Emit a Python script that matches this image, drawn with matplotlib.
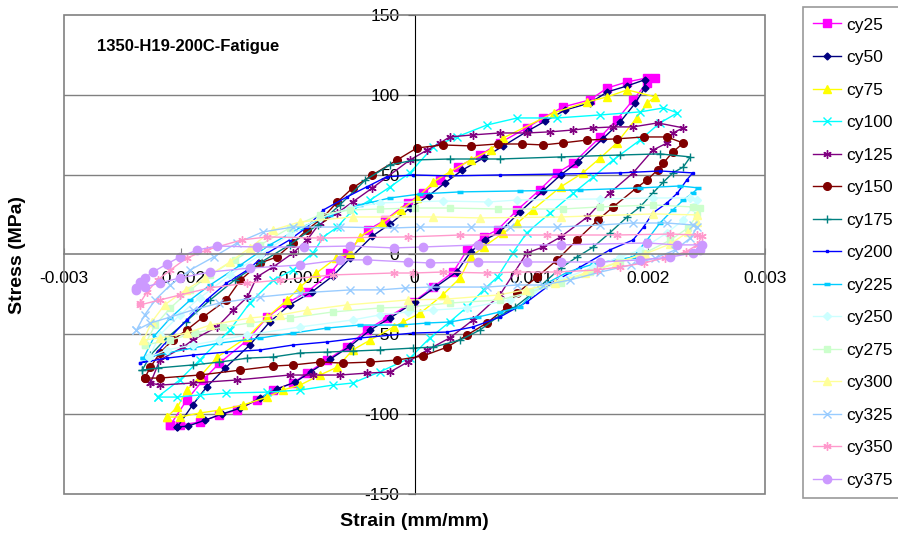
import matplotlib
matplotlib.use('Agg')
import matplotlib.pyplot as plt
from matplotlib.patches import Rectangle

plt.rcParams['font.family'] = ['Liberation Sans', 'DejaVu Sans']

# 数据: 每个循环一个闭合的滞回环 (应变, 应力)
cy25_x = [-0.00209, -0.00195, -0.00181, -0.00167, -0.00143, -0.00126, -0.00109, -0.00092, -0.00072, -0.00058,
          -0.00040, -0.00025, -0.00006, 0.00007, 0.00022, 0.00037, 0.00056, 0.00073, 0.00096, 0.00110,
          0.00127, 0.00150, 0.00165, 0.00182, 0.00199, 0.00206,
          0.00199, 0.00187, 0.00173, 0.00159, 0.00136, 0.00122, 0.00107, 0.00088, 0.00071, 0.00059,
          0.00045, 0.00033, 0.00016, -0.00001, -0.00024, -0.00041, -0.00058, -0.00075, -0.00092, -0.00104,
          -0.00121, -0.00135, -0.00152, -0.00167, -0.00184, -0.00201, -0.00209]
cy25_y = [-106.8, -91.2, -78.6, -68.0, -53.6, -39.2, -30.4, -23.5, -11.6, 0.9,
          15.4, 21.6, 32.3, 38.5, 46.7, 54.8, 62.3, 69.9, 79.3, 85.5,
          92.4, 96.8, 104.3, 108.1, 110.6, 110.6,
          107.5, 96.8, 84.3, 73.6, 57.3, 51.1, 40.4, 27.9, 15.4, 11.0,
          2.8, -11.0, -20.4, -29.8, -39.8, -47.3, -58.0, -66.1, -74.3, -80.5,
          -84.9, -91.2, -97.5, -100.6, -105.0, -106.8, -106.8]

cy50_x = [-0.00203, -0.00190, -0.00178, -0.00162, -0.00141, -0.00124, -0.00107, -0.00088, -0.00070, -0.00055,
          -0.00036, -0.00021, -0.00004, 0.00012, 0.00026, 0.00041, 0.00059, 0.00076, 0.00097, 0.00112,
          0.00129, 0.00150, 0.00165, 0.00182, 0.00197,
          0.00197, 0.00189, 0.00176, 0.00161, 0.00140, 0.00125, 0.00110, 0.00090, 0.00073, 0.00060,
          0.00048, 0.00036, 0.00018, 0.00000, -0.00021, -0.00038, -0.00055, -0.00072, -0.00089, -0.00102,
          -0.00118, -0.00132, -0.00149, -0.00165, -0.00179, -0.00194, -0.00203]
cy50_y = [-108.0, -94.3, -83.0, -71.1, -56.7, -42.3, -31.6, -23.5, -13.5, -2.2,
          11.6, 19.1, 29.1, 36.7, 44.8, 52.9, 60.5, 68.0, 77.4, 83.6,
          90.5, 94.9, 101.8, 105.6, 109.4,
          104.3, 94.9, 83.0, 72.4, 58.0, 49.8, 39.8, 26.6, 14.1, 9.1,
          1.6, -11.0, -20.4, -29.8, -39.8, -47.3, -57.3, -65.5, -73.6, -79.9,
          -84.3, -89.9, -96.2, -99.9, -103.7, -107.5, -108.0]

cy75_x = [-0.00212, -0.00203, -0.00195, -0.00184, -0.00169, -0.00143, -0.00126, -0.00109, -0.00098, -0.00084,
          -0.00067, -0.00055, -0.00047, -0.00028, -0.00012, 0.00002, 0.00016, 0.00030, 0.00048, 0.00065,
          0.00076, 0.00119, 0.00148, 0.00165, 0.00182, 0.00206,
          0.00199, 0.00190, 0.00173, 0.00159, 0.00144, 0.00125, 0.00101, 0.00088, 0.00076, 0.00059,
          0.00048, 0.00039, 0.00024, 0.00005, -0.00010, -0.00018, -0.00038, -0.00053, -0.00066, -0.00081,
          -0.00098, -0.00113, -0.00126, -0.00147, -0.00167, -0.00184, -0.00201, -0.00212]
cy75_y = [-101.8, -95.6, -84.9, -76.8, -64.3, -51.7, -39.2, -28.5, -20.4, -11.6,
          -2.2, 0.9, 11.0, 19.7, 27.9, 35.4, 45.4, 51.7, 59.2, 65.5,
          73.0, 88.7, 95.6, 98.7, 103.1, 98.7,
          94.9, 85.5, 69.8, 60.5, 51.1, 42.3, 27.9, 19.7, 13.5, 4.7,
          -1.6, -14.7, -25.4, -36.7, -42.3, -45.4, -53.6, -59.8, -70.5, -75.5,
          -81.8, -84.9, -89.3, -94.3, -97.5, -99.3, -101.8, -101.8]

cy100_x = [-0.00220, -0.00201, -0.00184, -0.00158, -0.00141, -0.00121, -0.00104, -0.00087, -0.00078, -0.00066,
           -0.00053, -0.00038, -0.00021, -0.00004, 0.00016, 0.00036, 0.00062, 0.00088, 0.00122, 0.00159,
           0.00193, 0.00213, 0.00225,
           0.00210, 0.00193, 0.00170, 0.00153, 0.00136, 0.00116, 0.00096, 0.00084, 0.00071, 0.00059,
           0.00045, 0.00030, 0.00013, -0.00004, -0.00030, -0.00053, -0.00070, -0.00098, -0.00126, -0.00161,
           -0.00184, -0.00203, -0.00220]
cy100_y = [-89.3, -78.6, -66.1, -47.3, -30.4, -16.0, -9.7, 0.9, 11.0, 17.2,
           27.9, 34.1, 42.3, 51.1, 67.4, 73.6, 81.1, 85.5, 85.5, 87.4,
           89.3, 91.8, 88.7,
           82.4, 71.7, 59.2, 48.6, 38.5, 26.0, 13.5, 0.9, -14.1, -22.2,
           -32.9, -42.3, -52.3, -64.9, -73.6, -80.5, -81.8, -84.9, -86.2, -86.8,
           -88.0, -89.3, -89.3]

cy125_x = [-0.00226, -0.00218, -0.00198, -0.00190, -0.00169, -0.00155, -0.00143, -0.00135, -0.00121, -0.00104,
           -0.00092, -0.00081, -0.00066, -0.00053, -0.00036, -0.00004, 0.00011, 0.00022, 0.00030, 0.00050,
           0.00073, 0.00096, 0.00116, 0.00136, 0.00153, 0.00170, 0.00187, 0.00208, 0.00230,
           0.00221, 0.00216, 0.00204, 0.00187, 0.00167, 0.00148, 0.00125, 0.00110, 0.00096, 0.00073,
           0.00050, 0.00030, 0.00011, -0.00006, -0.00021, -0.00041, -0.00064, -0.00087, -0.00107, -0.00152,
           -0.00190, -0.00218, -0.00226]
cy125_y = [-80.5, -66.1, -58.0, -53.6, -45.4, -34.8, -26.6, -14.1, -7.8, 0.9,
           9.1, 19.7, 26.0, 32.9, 41.7, 59.2, 65.5, 69.9, 73.6, 74.9,
           76.1, 76.1, 76.8, 78.0, 79.3, 79.9, 79.9, 82.4, 79.3,
           76.1, 69.8, 65.4, 51.1, 38.5, 23.5, 11.0, 4.7, 0.9, -25.4,
           -41.0, -52.3, -59.8, -67.4, -73.6, -74.3, -75.5, -75.5, -75.5, -78.6,
           -80.5, -81.8, -80.5]

cy150_x = [-0.00231, -0.00226, -0.00218, -0.00207, -0.00195, -0.00181, -0.00161, -0.00149, -0.00132, -0.00118,
           -0.00104, -0.00092, -0.00078, -0.00066, -0.00053, -0.00036, -0.00015, 0.00002, 0.00024, 0.00048,
           0.00071, 0.00092, 0.00110, 0.00127, 0.00148, 0.00173, 0.00196, 0.00216, 0.00230,
           0.00221, 0.00213, 0.00208, 0.00199, 0.00190, 0.00170, 0.00157, 0.00139, 0.00122, 0.00105,
           0.00088, 0.00079, 0.00062, 0.00045, 0.00028, 0.00007, -0.00015, -0.00038, -0.00061, -0.00081,
           -0.00104, -0.00121, -0.00149, -0.00184, -0.00218, -0.00231]
cy150_y = [-77.4, -70.5, -61.7, -53.6, -47.3, -39.2, -28.5, -16.0, -5.3, -1.6,
           7.2, 15.4, 23.5, 32.9, 41.7, 49.8, 59.2, 66.7, 68.6, 68.0,
           69.2, 69.2, 68.6, 69.9, 71.7, 72.4, 73.6, 73.6, 69.8,
           64.2, 57.3, 52.9, 46.7, 41.7, 29.8, 21.6, 9.1, -3.4, -14.0,
           -24.1, -32.9, -42.9, -50.4, -58.0, -63.6, -66.1, -67.4, -68.0, -67.4,
           -69.2, -69.9, -72.4, -75.5, -77.4, -77.4]

cy175_x = [-0.00233, -0.00226, -0.00214, -0.00196, -0.00175, -0.00154, -0.00131, -0.00107, -0.00083, -0.00064,
           -0.00042, -0.00021, 0.00000, 0.00030, 0.00073, 0.00125, 0.00176, 0.00210, 0.00236,
           0.00230, 0.00221, 0.00213, 0.00204, 0.00193, 0.00182, 0.00167, 0.00153, 0.00139, 0.00125,
           0.00099, 0.00086, 0.00071, 0.00056, 0.00039, 0.00016, -0.00001, -0.00030, -0.00053, -0.00075,
           -0.00098, -0.00121, -0.00143, -0.00167, -0.00190, -0.00220, -0.00233]
cy175_y = [-72.4, -63.0, -53.6, -42.3, -28.5, -16.0, -4.7, 6.0, 18.5, 31.0,
           46.7, 56.1, 59.2, 59.8, 59.8, 61.1, 62.3, 63.0, 61.1,
           54.8, 51.1, 45.4, 38.5, 29.8, 23.5, 13.5, 4.7, -1.6, -8.5,
           -25.4, -32.9, -39.2, -47.3, -53.6, -58.0, -58.6, -59.8, -60.5, -61.1,
           -61.7, -64.2, -64.9, -67.4, -69.2, -71.1, -72.4]

cy200_x = [-0.00235, -0.00226, -0.00209, -0.00195, -0.00178, -0.00161, -0.00143, -0.00126, -0.00107, -0.00092,
           -0.00078, -0.00058, -0.00041, -0.00024, -0.00001, 0.00030, 0.00073, 0.00125, 0.00176, 0.00210,
           0.00238,
           0.00233, 0.00225, 0.00216, 0.00204, 0.00196, 0.00187, 0.00167, 0.00142, 0.00119, 0.00096,
           0.00073, 0.00050, 0.00028, -0.00001, -0.00047, -0.00075, -0.00104, -0.00132, -0.00161, -0.00190,
           -0.00212, -0.00235]
cy200_y = [-67.9, -66.1, -51.7, -41.0, -28.5, -17.9, -9.7, 0.9, 9.1, 17.2,
           27.9, 36.0, 42.3, 48.6, 49.8, 49.2, 49.8, 50.4, 51.1, 52.3,
           51.1,
           46.7, 38.5, 32.3, 26.0, 17.2, 9.1, 2.8, -7.8, -17.2, -29.8,
           -39.2, -45.4, -48.6, -49.2, -52.3, -54.8, -56.7, -59.8, -61.1, -63.0,
           -64.9, -67.9]

cy225_x = [-0.00232, -0.00222, -0.00209, -0.00192, -0.00175, -0.00149, -0.00124, -0.00098, -0.00072, -0.00047,
           -0.00021, 0.00005, 0.00039, 0.00090, 0.00142, 0.00193, 0.00227, 0.00243,
           0.00238, 0.00230, 0.00221, 0.00210, 0.00199, 0.00187, 0.00172, 0.00153, 0.00131, 0.00107,
           0.00090, 0.00073, 0.00054, 0.00030, 0.00011, -0.00012, -0.00047, -0.00075, -0.00104, -0.00132,
           -0.00167, -0.00190, -0.00212, -0.00232]
cy225_y = [-64.9, -50.4, -39.8, -28.5, -19.1, -6.6, 6.0, 16.6, 24.8, 31.0,
           35.4, 37.9, 39.2, 39.8, 40.4, 41.7, 42.9, 41.7,
           38.5, 34.1, 27.9, 19.7, 9.1, -1.6, -3.4, -6.0, -11.0, -20.4,
           -32.9, -36.0, -39.2, -42.3, -42.9, -44.2, -44.2, -46.1, -49.2, -52.3,
           -55.5, -58.6, -61.7, -64.9]

cy250_x = [-0.00227, -0.00218, -0.00201, -0.00184, -0.00158, -0.00132, -0.00107, -0.00081, -0.00055, -0.00030,
           0.00024, 0.00063, 0.00088, 0.00159, 0.00204, 0.00236, 0.00242,
           0.00238, 0.00230, 0.00216, 0.00193, 0.00176, 0.00153, 0.00125, 0.00102, 0.00082, 0.00045,
           0.00016, -0.00006, -0.00030, -0.00053, -0.00098, -0.00143, -0.00167, -0.00190, -0.00212, -0.00227]
cy250_y = [-64.2, -50.4, -37.9, -27.3, -12.8, -0.3, 12.2, 22.9, 29.1, 32.3,
           33.5, 32.9, 34.1, 34.8, 35.4, 35.4, 34.1,
           29.8, 21.6, 13.5, 2.8, -1.6, -7.8, -16.0, -22.2, -28.5, -33.5,
           -34.8, -36.0, -37.9, -41.0, -45.4, -50.4, -53.6, -56.7, -59.8, -64.2]

cy275_x = [-0.00231, -0.00222, -0.00209, -0.00192, -0.00175, -0.00154, -0.00132, -0.00107, -0.00081, -0.00055,
           -0.00030, 0.00000, 0.00030, 0.00071, 0.00127, 0.00159, 0.00204, 0.00238, 0.00244,
           0.00242, 0.00234, 0.00219, 0.00197, 0.00176, 0.00150, 0.00125, 0.00099, 0.00073, 0.00030,
           -0.00004, -0.00030, -0.00070, -0.00107, -0.00141, -0.00164, -0.00188, -0.00209, -0.00231]
cy275_y = [-56.7, -44.2, -33.5, -22.2, -12.8, -3.4, 6.0, 16.6, 24.8, 27.9,
           28.5, 29.1, 29.1, 28.5, 28.5, 29.8, 31.0, 29.8, 29.1,
           24.8, 16.6, 9.1, 0.9, -4.7, -11.0, -17.9, -23.5, -28.5, -30.4,
           -32.9, -33.5, -36.0, -39.8, -42.9, -45.4, -49.2, -53.6, -56.7]

cy300_x = [-0.00232, -0.00225, -0.00214, -0.00196, -0.00179, -0.00158, -0.00141, -0.00121, -0.00098, -0.00053,
           0.00016, 0.00056, 0.00125, 0.00204, 0.00242,
           0.00242, 0.00234, 0.00219, 0.00197, 0.00172, 0.00146, 0.00120, 0.00095, 0.00071, 0.00028,
           -0.00006, -0.00058, -0.00092, -0.00115, -0.00141, -0.00175, -0.00195, -0.00218, -0.00232]
cy300_y = [-53.6, -42.3, -31.6, -22.2, -14.7, -4.7, 4.1, 15.4, 20.4, 23.5,
           23.5, 22.9, 23.5, 25.4, 24.8,
           20.4, 14.1, 6.6, 0.3, -5.3, -11.6, -17.9, -22.2, -25.4, -27.9,
           -28.5, -31.6, -34.8, -37.9, -39.8, -44.2, -49.2, -52.3, -53.6]

cy325_x = [-0.00238, -0.00231, -0.00222, -0.00209, -0.00192, -0.00172, -0.00152, -0.00130, -0.00104, -0.00064,
           -0.00018, 0.00005, 0.00048, 0.00082, 0.00122, 0.00159, 0.00187, 0.00216, 0.00238, 0.00242,
           0.00236, 0.00223, 0.00206, 0.00185, 0.00159, 0.00133, 0.00110, 0.00088, 0.00062, 0.00013,
           -0.00008, -0.00030, -0.00055, -0.00098, -0.00132, -0.00167, -0.00190, -0.00209, -0.00226, -0.00238]
cy325_y = [-47.3, -37.9, -28.5, -19.1, -9.7, -1.6, 7.2, 14.1, 17.2, 17.2,
           16.6, 17.2, 17.2, 17.2, 17.2, 18.5, 19.7, 19.7, 18.5, 17.2,
           10.3, 2.8, -2.2, -6.6, -11.0, -16.0, -19.1, -19.1, -20.4, -20.4,
           -21.0, -22.2, -22.2, -24.1, -26.6, -30.4, -34.8, -39.2, -42.9, -47.3]

cy350_x = [-0.00235, -0.00229, -0.00220, -0.00209, -0.00195, -0.00178, -0.00148, -0.00126, -0.00081, -0.00006,
           0.00039, 0.00113, 0.00173, 0.00219, 0.00242, 0.00246,
           0.00242, 0.00232, 0.00214, 0.00196, 0.00176, 0.00156, 0.00122, 0.00088, 0.00062, 0.00024,
           -0.00001, -0.00018, -0.00070, -0.00115, -0.00143, -0.00175, -0.00201, -0.00218, -0.00235]
cy350_y = [-30.4, -23.5, -16.0, -9.7, -2.2, 2.8, 9.1, 11.0, 10.3, 11.0,
           12.2, 12.2, 12.2, 12.8, 12.2, 11.6,
           6.0, 1.6, -2.2, -5.3, -7.8, -9.7, -11.0, -11.0, -11.6, -11.0,
           -11.6, -11.6, -12.8, -16.0, -17.9, -20.9, -25.4, -28.5, -31.6]

cy375_x = [-0.00238, -0.00235, -0.00231, -0.00224, -0.00212, -0.00201, -0.00186, -0.00169, -0.00135, -0.00095,
           -0.00055, -0.00018, 0.00007, 0.00054, 0.00125, 0.00199, 0.00225, 0.00246,
           0.00244, 0.00238, 0.00219, 0.00193, 0.00159, 0.00125, 0.00096, 0.00054, 0.00013, -0.00006,
           -0.00041, -0.00064, -0.00098, -0.00141, -0.00175, -0.00201, -0.00218, -0.00231, -0.00238]
cy375_y = [-21.0, -17.2, -14.7, -11.0, -6.0, -1.6, 2.8, 5.3, 4.7, 4.7,
           5.3, 4.1, 4.7, 6.0, 6.0, 7.2, 6.0, 6.0,
           2.8, 0.9, -1.6, -3.4, -4.7, -4.7, -4.7, -4.7, -5.3, -4.7,
           -3.4, -3.4, -6.6, -8.5, -11.0, -14.7, -17.9, -20.4, -22.2]

labels = ['cy25', 'cy50', 'cy75', 'cy100', 'cy125', 'cy150', 'cy175', 'cy200',
          'cy225', 'cy250', 'cy275', 'cy300', 'cy325', 'cy350', 'cy375']
strains = [cy25_x, cy50_x, cy75_x, cy100_x, cy125_x, cy150_x, cy175_x, cy200_x,
           cy225_x, cy250_x, cy275_x, cy300_x, cy325_x, cy350_x, cy375_x]
stresses = [cy25_y, cy50_y, cy75_y, cy100_y, cy125_y, cy150_y, cy175_y, cy200_y,
            cy225_y, cy250_y, cy275_y, cy300_y, cy325_y, cy350_y, cy375_y]

# Excel 默认配色和标记
colors = ['#FF00FF', '#000080', '#FFFF00', '#00FFFF', '#800080', '#800000', '#008080', '#0000FF',
          '#00CCFF', '#CCFFFF', '#CCFFCC', '#FFFF99', '#99CCFF', '#FF99CC', '#CC99FF']
ast = (6, 2, 0)
markers = ['s', 'D', '^', 'x', ast, 'o', '+', 's', '_', 'D', 's', '^', 'x', ast, 'o']
msizes = [5.5, 3.5, 6, 5.5, 6, 5.5, 6, 2, 5, 4, 5, 6, 5.5, 6, 6]

fig = plt.figure(figsize=(8.98, 5.33), dpi=100)
ax = fig.add_axes([0.0713, 0.0732, 0.7807, 0.8987])

for y in [-100, -50, 50, 100]:
    ax.axhline(y, color='#808080', lw=1.0, zorder=0)

handles = []
for x, y, c, m, ms, lab in zip(strains, stresses, colors, markers, msizes, labels):
    mew = 2.5 if m == '_' else 1.0
    h, = ax.plot(x, y, color=c, marker=m, markersize=ms, markeredgewidth=mew,
                 markerfacecolor=c, markeredgecolor=c, lw=1.0, label=lab)
    handles.append(h)

ax.set_xlim(-0.003, 0.003)
ax.set_ylim(-150, 150)

ax.spines['top'].set_visible(False)
ax.spines['right'].set_visible(False)
ax.spines['left'].set_position(('data', 0))
ax.spines['bottom'].set_position(('data', 0))
ax.spines['left'].set_color('black')
ax.spines['bottom'].set_color('#808080')
ax.spines['bottom'].set_linewidth(1.2)
ax.add_patch(Rectangle((0, 0), 1, 1, transform=ax.transAxes, fill=False,
                       edgecolor='#808080', lw=1.2, clip_on=False, zorder=5))

xt = [-0.003, -0.002, -0.001, 0, 0.001, 0.002, 0.003]
ax.set_xticks(xt, labels=['-0.003', '-0.002', '-0.001', '0', '0.001', '0.002', '0.003'])
ax.set_yticks([-150, -100, -50, 0, 50, 100, 150],
              labels=['-150', '-100', '-50', '0', '50', '100', '150'])
ax.tick_params(axis='x', direction='in', length=4, pad=12, labelsize=12.5, color='#808080')
ax.tick_params(axis='y', direction='out', length=5, pad=6, labelsize=12.5)

ax.text(0.047, 0.935, '1350-H19-200C-Fatigue', transform=ax.transAxes,
        fontsize=12, fontweight='bold', va='center', ha='left')

fig.text(414 / 898, 1 - 522 / 533, 'Strain (mm/mm)', ha='center', va='center',
         fontsize=14, fontweight='bold')
fig.text(18 / 898, 1 - 255 / 533, 'Stress (MPa)', ha='center', va='center',
         rotation=90, fontsize=14, fontweight='bold')

leg = fig.legend(handles=handles, loc='upper left', bbox_to_anchor=(803 / 898, 1 - 7 / 533),
                 borderaxespad=0, fontsize=12.5, frameon=True, fancybox=False,
                 edgecolor='#808080', handlelength=1.6, handletextpad=0.3,
                 labelspacing=1.0, borderpad=0.6)
leg.get_frame().set_linewidth(1.2)

plt.savefig('out.png', dpi=100)
